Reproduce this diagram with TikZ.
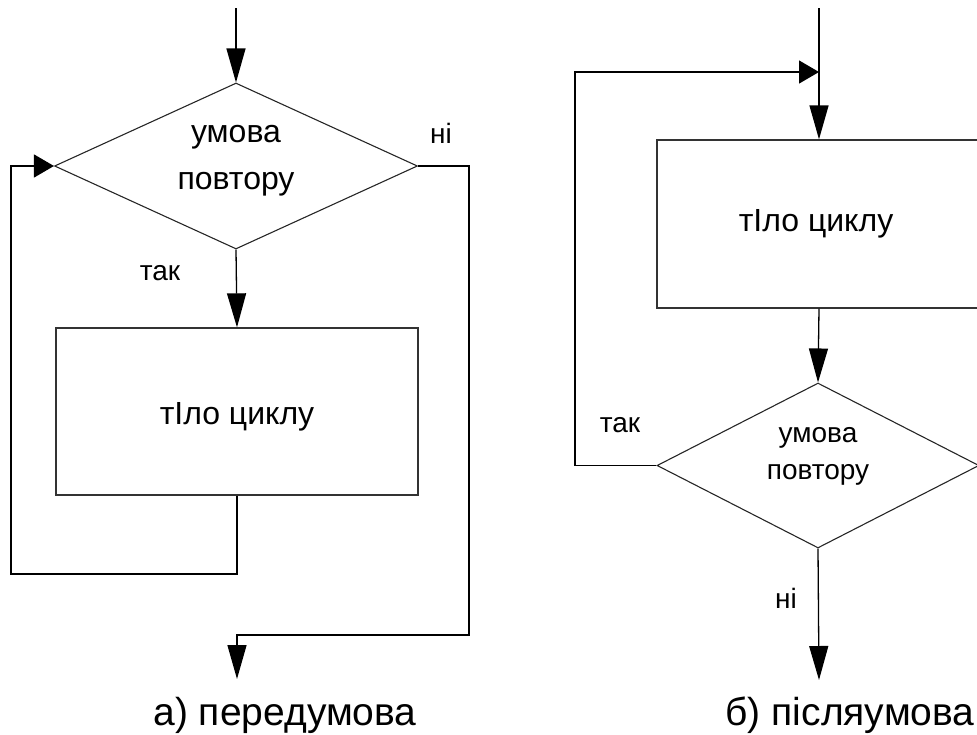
\documentclass[tikz,border=0pt]{standalone}
\usepackage{fontspec}
\setmainfont{Liberation Sans}
\usetikzlibrary{shapes.geometric,arrows.meta}
\begin{document}
\begin{tikzpicture}[x=1pt,y=-1pt]
\tikzset{
  flow/.style={line width=1.3pt, draw=black},
  vhead/.style={-{Triangle[length=34pt,width=19pt]}},
  hhead/.style={-{Triangle[length=20pt,width=23pt]}},
  block/.style={draw=black!80, line width=1.3pt, rectangle, inner sep=0pt},
  decision/.style={draw=black!85, line width=1.1pt, diamond, inner sep=0pt},
  txt/.style={font=\fontsize{32}{47}\selectfont, align=center, inner sep=0pt},
  smalltxt/.style={font=\fontsize{28}{37}\selectfont, align=center, inner sep=0pt},
  lbl/.style={font=\fontsize{28}{32}\selectfont, inner sep=0pt},
  capt/.style={font=\fontsize{39}{46}\selectfont, inner sep=0pt, anchor=base},
}
\useasboundingbox (0,0) rectangle (977,734);

% ---- a) pre-condition loop ----
\node[decision, minimum width=363pt, minimum height=166pt] (da) at (236,166) {};
\node[txt] (da text) at (236,161) {умова\\повтору};
\node[block, minimum width=362pt, minimum height=167pt] (ba) at (237,411.5) {};
\node[txt] (ba text) at (237,417) {тIло циклу};

\coordinate (sa) at (236,8);
\coordinate (la) at (11,574);
\coordinate (ra) at (469,635);
\coordinate (ea) at (237,679);

\draw[flow,vhead] (sa) -- (da.north);
\draw[flow,vhead] (da.south) -- (ba.north);
\draw[flow,hhead] (ba.south) |- (la) |- (da.west);
\draw[flow,vhead] (da.east) -| (ra) -| (ea);

\node[lbl] (na) at (441,133) {ні};
\node[lbl] (ya) at (160,273) {так};
\node[capt] (capa) at (285,725) {а) передумова};

% ---- b) post-condition loop ----
\node[block, minimum width=324pt, minimum height=168pt] (bb) at (819,224) {};
\node[txt] (bb text) at (816,224) {тIло циклу};
\node[decision, minimum width=322pt, minimum height=165pt] (db) at (818,465.5) {};
\node[smalltxt] (db text) at (818,456) {умова\\повтору};

\coordinate (sb) at (819,8);
\coordinate (lb) at (575,72);
\coordinate (eb) at (819,680);

\draw[flow,vhead] (sb) -- (bb.north);
\draw[flow,hhead] (db.west) -| (lb) -- (sb |- lb);
\draw[flow,vhead] (bb.south) -- (db.north);
\draw[flow,vhead] (db.south) -- (eb);

\node[lbl] (yb) at (620,425) {так};
\node[lbl] (nb) at (786,598) {ні};
\node[capt] (capb) at (850,725) {б) післяумова};
\end{tikzpicture}
\end{document}
